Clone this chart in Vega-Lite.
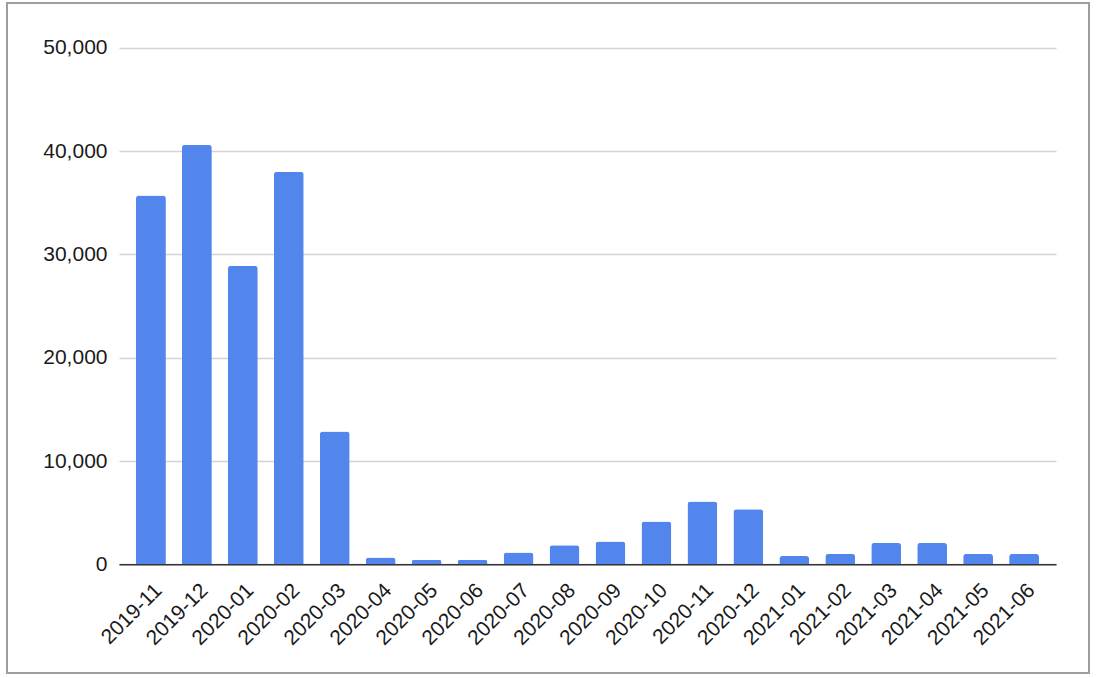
{
  "$schema": "https://vega.github.io/schema/vega-lite/v6.json",
  "width": 1082,
  "height": 670,
  "autosize": {"type": "none"},
  "padding": {"left": 7, "top": 3, "right": 7, "bottom": 5},
  "background": "#ffffff",
  "config": {
    "view": {"stroke": "#9e9e9e", "strokeWidth": 2},
    "font": "Liberation Sans",
    "axis": {"labelFont": "Liberation Sans", "labelColor": "#1a1a1a", "labelFontSize": 21}
  },
  "data": {
    "values": [
      {"month": "2019-11", "count": 35700},
      {"month": "2019-12", "count": 40600},
      {"month": "2020-01", "count": 28900},
      {"month": "2020-02", "count": 38000},
      {"month": "2020-03", "count": 12850},
      {"month": "2020-04", "count": 650},
      {"month": "2020-05", "count": 450},
      {"month": "2020-06", "count": 450},
      {"month": "2020-07", "count": 1150},
      {"month": "2020-08", "count": 1850},
      {"month": "2020-09", "count": 2200},
      {"month": "2020-10", "count": 4150},
      {"month": "2020-11", "count": 6070},
      {"month": "2020-12", "count": 5330},
      {"month": "2021-01", "count": 800},
      {"month": "2021-02", "count": 1000},
      {"month": "2021-03", "count": 2070},
      {"month": "2021-04", "count": 2070},
      {"month": "2021-05", "count": 1000},
      {"month": "2021-06", "count": 1000}
    ]
  },
  "mark": {"type": "bar", "color": "#5286EC", "cornerRadiusTopLeft": 3, "cornerRadiusTopRight": 3},
  "encoding": {
    "x": {
      "field": "month",
      "type": "ordinal",
      "sort": null,
      "scale": {"range": [112, 1049], "paddingInner": 0.35, "paddingOuter": 0.37},
      "axis": {
        "title": null,
        "orient": "bottom",
        "offset": -108.7,
        "labelAngle": -45,
        "labelAlign": "right",
        "labelBaseline": "top",
        "labelPadding": 15,
        "labelFontSize": 21,
        "ticks": false,
        "domainColor": "#333333",
        "domainWidth": 1.5,
        "grid": false
      }
    },
    "y": {
      "field": "count",
      "type": "quantitative",
      "scale": {"domain": [0, 50000], "range": [561.3, 44.8], "nice": false, "zero": true},
      "axis": {
        "title": null,
        "orient": "left",
        "offset": -112,
        "values": [0, 10000, 20000, 30000, 40000, 50000],
        "format": ",d",
        "domain": false,
        "ticks": false,
        "labelPadding": 12,
        "labelFontSize": 21,
        "grid": true,
        "gridColor": "#d3d3d3",
        "gridWidth": 1.3
      }
    }
  }
}
